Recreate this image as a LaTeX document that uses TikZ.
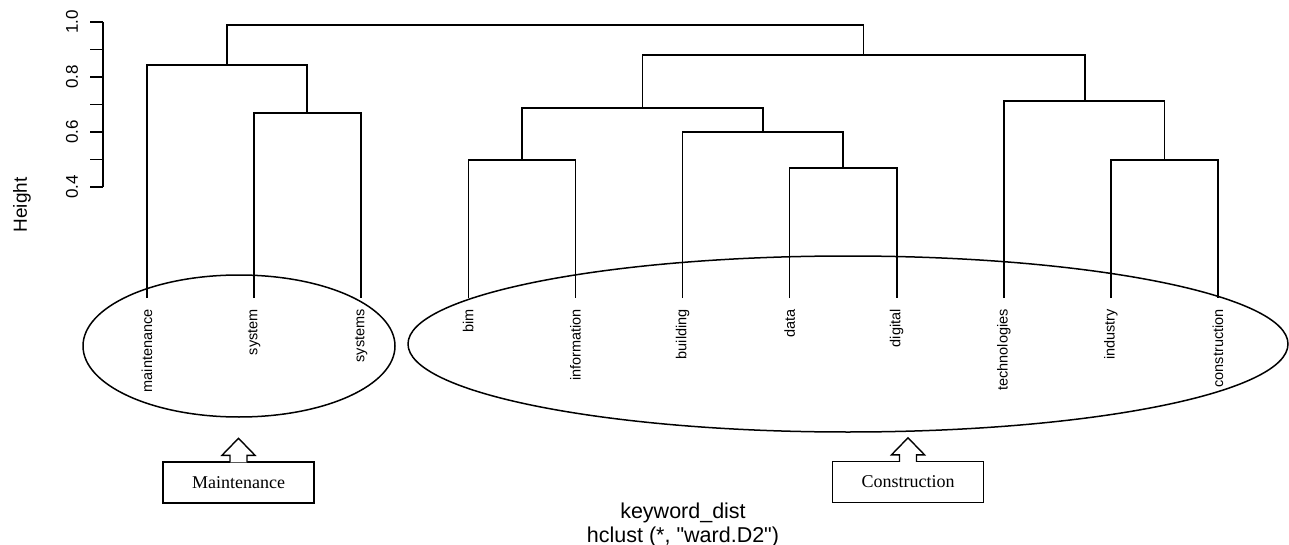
\documentclass[tikz,border=0pt]{standalone}
\usepackage{fontspec}
\setmainfont{Liberation Serif}
\setsansfont{Liberation Sans}
\newfontfamily\plainsans{Liberation Sans}
\usetikzlibrary{shapes.geometric}
\begin{document}
\begin{tikzpicture}[x=1pt,y=-1pt,
  dend/.style={line width=1.6pt},
  leaflabel/.style={font=\sffamily\fontsize{14.5}{17}\selectfont, rotate=90, anchor=east, inner sep=0pt},
  ticklabel/.style={font=\sffamily\fontsize{17}{20}\selectfont, rotate=90, inner sep=0pt},
  axistitle/.style={font=\sffamily\fontsize{19}{22}\selectfont},
  group/.style={ellipse, draw, line width=1.5pt, inner sep=0pt},
  callout/.style={draw, line width=1.4pt, minimum width=151pt, minimum height=41pt, inner sep=0pt, font=\fontsize{18}{21}\selectfont},
  subtitle/.style={font=\plainsans\fontsize{21.5}{24}\selectfont, inner sep=0pt}
]
\useasboundingbox (0,0) rectangle (1289,545);

% axis
\draw[dend] (103,22) -- (103,187);
\foreach \h/\y in {0.4/187, 0.5/159.5, 0.6/132, 0.7/104.5, 0.8/77, 0.9/49.5, 1.0/22}
  \draw[dend] (90,\y) -- (103,\y);
\foreach \t/\y in {0.4/187, 0.6/132, 0.8/77, 1.0/22}
  \node[ticklabel] (tk\y) at (72,\y) {\t};
\node[axistitle, rotate=90] (ylab) at (22,205) {Height};

% leaves
\foreach \name/\i in {maintenance/0, system/1, systems/2, bim/3, information/4, building/5, data/6, digital/7, technologies/8, industry/9, construction/10}{
  \coordinate (l\i) at ({147+107.1*\i},298);
  \node[leaflabel] (t\i) at ({147+107.1*\i},309) {\name};
}

% merge points
\coordinate (m1) at (307,113);
\coordinate (m2) at (227,65);
\coordinate (m3) at (522,160);
\coordinate (m4) at (843,168);
\coordinate (m5) at (763,132);
\coordinate (m6) at (642.5,108);
\coordinate (m7) at (1164.5,160);
\coordinate (m8) at (1084.75,101);
\coordinate (m9) at (863.6,55);
\coordinate (m10) at (545.3,25);

\draw[dend] (l1) |- (m1) -| (l2);
\draw[dend] (l0) |- (m2) -| (m1);
\draw[dend] (l3) |- (m3) -| (l4);
\draw[dend] (l6) |- (m4) -| (l7);
\draw[dend] (l5) |- (m5) -| (m4);
\draw[dend] (m3) |- (m6) -| (m5);
\draw[dend] (l9) |- (m7) -| (l10);
\draw[dend] (l8) |- (m8) -| (m7);
\draw[dend] (m6) |- (m9) -| (m8);
\draw[dend] (m2) |- (m10) -| (m9);

% groups
\node[group, minimum width=312pt, minimum height=142pt] (gmaint) at (239,346) {};
\node[group, minimum width=880pt, minimum height=176pt] (gcons) at (848,344) {};

% callouts
\node[callout] (bmaint) at (238.5,482.5) {Maintenance};
\node[callout] (bcons) at (908,482) {Construction};
\foreach \b in {bmaint,bcons}
  \draw[line width=1.4pt, fill=white] ([xshift=-8.5pt,yshift=-1pt]\b.north) -- ++(0pt,7pt) -- ++(-8pt,0pt)
    -- ++(16.5pt,17pt) -- ++(16.5pt,-17pt) -- ++(-8pt,0pt) -- ++(0pt,-7pt);

% subtitles
\node[subtitle] (xlab) at (683,513) {keyword\_dist};
\node[subtitle] (sub) at (683,537) {hclust (*, "ward.D2")};
\end{tikzpicture}
\end{document}
